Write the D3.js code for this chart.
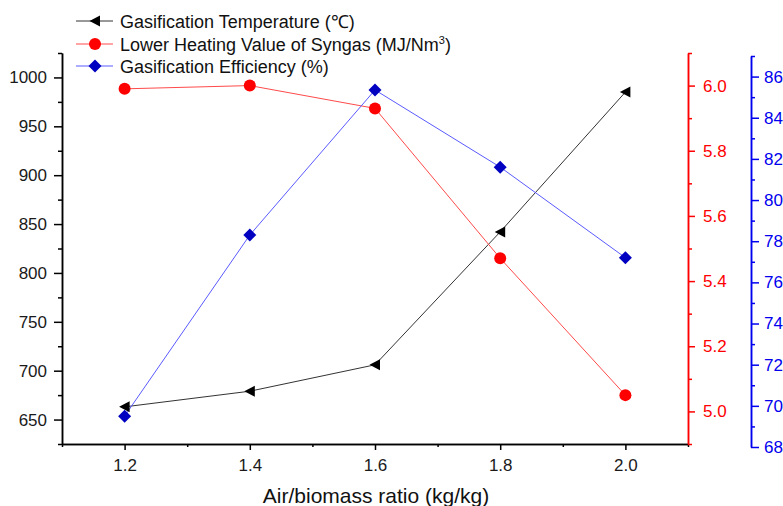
<!DOCTYPE html>
<html><head><meta charset="utf-8">
<script src="https://cdn.jsdelivr.net/npm/d3@7"></script>
<style>body{margin:0;background:#fff}svg{display:block}text{font-family:"Liberation Sans",Arial,sans-serif}</style>
</head><body><svg id="c" width="783" height="506"></svg>
<script>
const ratios = [1.2, 1.4, 1.6, 1.8, 2.0];
const temperature = [663, 679, 706, 842, 985];
const heatingValue = [5.99, 6.0, 5.93, 5.47, 5.05];
const efficiency = [69.5, 78.3, 85.35, 81.6, 77.2];

const xTicks = [1.2, 1.4, 1.6, 1.8, 2.0];
const xMinor = [1.1, 1.3, 1.5, 1.7, 1.9, 2.1];
const tTicks = [650, 700, 750, 800, 850, 900, 950, 1000];
const tMinor = [625, 675, 725, 775, 825, 875, 925, 975, 1025];
const hTicks = [5.0, 5.2, 5.4, 5.6, 5.8, 6.0];
const hMinor = [4.9, 5.1, 5.3, 5.5, 5.7, 5.9, 6.1];
const eTicks = [68, 70, 72, 74, 76, 78, 80, 82, 84, 86];
const eMinor = [69, 71, 73, 75, 77, 79, 81, 83, 85, 87];

const legendLabels = ["Gasification Temperature (\u2103)", "Lower Heating Value of Syngas (MJ/Nm", "Gasification Efficiency (%)"];
const xTitle = "Air/biomass ratio (kg/kg)";

const svg = d3.select("#c");
const x = d3.scaleLinear().domain([1.1, 2.1]).range([62, 688]);
const yT = d3.scaleLinear().domain([625, 1025]).range([444, 53]);
const yH = d3.scaleLinear().domain([4.9, 6.1]).range([444, 53]);
const yE = d3.scaleLinear().domain([68, 87]).range([447, 56]);

const FS = "17px";
function styleAxis(g, color, w, textColor) {
  g.select(".domain").attr("stroke", color).attr("stroke-width", w);
  g.selectAll(".tick line").attr("stroke", color).attr("stroke-width", w);
  g.selectAll("text").attr("fill", textColor || color).style("font-size", FS).style("font-family", '"Liberation Sans",Arial,sans-serif');
}

// left axis
const gL = svg.append("g").attr("transform", "translate(62,0)");
gL.call(d3.axisLeft(yT).tickValues(tTicks).tickSize(8).tickPadding(7).tickSizeOuter(0).tickFormat(d3.format("d")));
styleAxis(gL, "#000", 1.5, "#1a1a1a");
const gLm = svg.append("g").attr("transform", "translate(62,0)");
gLm.call(d3.axisLeft(yT).tickValues(tMinor).tickSize(4).tickFormat("").tickSizeOuter(0));
styleAxis(gLm, "#000", 1.5);

// bottom axis
const gB = svg.append("g").attr("transform", "translate(0,444)");
gB.call(d3.axisBottom(x).tickValues(xTicks).tickSize(6).tickPadding(9).tickSizeOuter(0).tickFormat(d3.format(".1f")));
styleAxis(gB, "#000", 1.5, "#1a1a1a");
const gBm = svg.append("g").attr("transform", "translate(0,444)");
gBm.call(d3.axisBottom(x).tickValues(xMinor).tickSize(3).tickFormat("").tickSizeOuter(0));
styleAxis(gBm, "#000", 1.5);

// red right axis
const RED = "#ff0000";
const gR = svg.append("g").attr("transform", "translate(688,0)");
gR.call(d3.axisRight(yH).tickValues(hTicks).tickSize(7).tickPadding(8).tickSizeOuter(0).tickFormat(d3.format(".1f")));
styleAxis(gR, RED, 1.5);
const gRm = svg.append("g").attr("transform", "translate(688,0)");
gRm.call(d3.axisRight(yH).tickValues(hMinor).tickSize(4).tickFormat("").tickSizeOuter(0));
styleAxis(gRm, RED, 1.5);

// blue right axis
const BLUE = "#0000ee";
const gE = svg.append("g").attr("transform", "translate(751,0)");
gE.call(d3.axisRight(yE).tickValues(eTicks).tickSize(8).tickPadding(5).tickSizeOuter(0));
styleAxis(gE, BLUE, 1.5);
const gEm = svg.append("g").attr("transform", "translate(751,0)");
gEm.call(d3.axisRight(yE).tickValues(eMinor).tickSize(4).tickFormat("").tickSizeOuter(0));
styleAxis(gEm, BLUE, 1.5);

// x title
svg.append("text").attr("x", 376).attr("y", 503).attr("text-anchor", "middle")
  .style("font-size", "21px").attr("fill", "#111").text(xTitle);

// series
const series = [
  {vals: temperature, y: yT, line: "#333", mark: "#000", shape: "tri"},
  {vals: heatingValue, y: yH, line: "#ff4a4a", mark: "#ff0000", shape: "circ"},
  {vals: efficiency, y: yE, line: "#5a5aff", mark: "#0000c0", shape: "dia"}
];
function drawMarker(g, shape, cx, cy, color) {
  if (shape === "tri") {
    g.append("path").attr("d", `M${cx-5.5},${cy} L${cx+5},${cy-5.5} L${cx+5},${cy+5.5} Z`).attr("fill", color);
  } else if (shape === "circ") {
    g.append("circle").attr("cx", cx).attr("cy", cy).attr("r", 6).attr("fill", color);
  } else {
    g.append("path").attr("d", `M${cx},${cy-6.5} L${cx+6.5},${cy} L${cx},${cy+6.5} L${cx-6.5},${cy} Z`).attr("fill", color);
  }
}
series.forEach(s => {
  const line = d3.line().x((d, i) => x(ratios[i])).y(d => s.y(d));
  svg.append("path").datum(s.vals).attr("d", line).attr("fill", "none").attr("stroke", s.line).attr("stroke-width", 1);
});
series.forEach(s => {
  const g = svg.append("g");
  s.vals.forEach((v, i) => drawMarker(g, s.shape, x(ratios[i]), s.y(v), s.mark));
});

// legend
const legY = [21, 44, 66];
series.forEach((s, i) => {
  const g = svg.append("g");
  g.append("line").attr("x1", 76).attr("x2", 113).attr("y1", legY[i]).attr("y2", legY[i]).attr("stroke", s.line).attr("stroke-width", 1);
  drawMarker(g, s.shape, 95, legY[i], s.mark);
  const t = g.append("text").attr("x", 120).attr("y", legY[i] + 6.5).style("font-size", "18px").attr("fill", "#111").text(legendLabels[i]);
  if (i === 1) {
    t.append("tspan").attr("dy", -7).style("font-size", "11px").text("3");
    t.append("tspan").attr("dy", 7).text(")");
  }
});
</script></body></html>
